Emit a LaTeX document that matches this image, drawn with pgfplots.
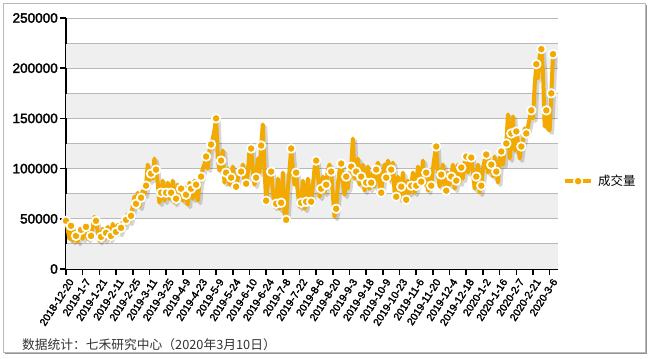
\documentclass[border=0pt]{standalone}
\usepackage{pgfplots}
\usepackage{pgfplotstable}
\pgfplotsset{compat=1.18}
\usepackage{fontspec}
\setmainfont{Liberation Sans}
\newfontfamily\bsans{Liberation Sans}[FakeBold=2.2]
\newfontfamily\cjk{Noto Sans CJK SC}
\definecolor{lineor}{RGB}{242,169,0}
\definecolor{bandgray}{RGB}{239,239,239}
\definecolor{gridgray}{RGB}{185,185,185}
\pgfplotstableread{
i v
0 48000
1 40000
2 30000
3 43000
4 28000
5 38000
6 33000
7 27000
8 40000
9 39000
10 30000
11 44000
12 42000
13 30000
14 36000
15 33000
16 42000
17 52000
18 48000
19 38000
20 28000
21 32000
22 40000
23 29000
24 36000
25 42000
26 30000
27 33000
28 45000
29 36000
30 37000
31 44000
32 36000
33 41000
34 47000
35 43000
36 49000
37 55000
38 47000
39 53000
40 62000
41 72000
42 65000
43 76000
44 62000
45 71000
46 78000
47 74000
48 83000
49 104000
50 88000
51 95000
52 90000
53 110000
54 99000
55 86000
56 66000
57 76000
58 88000
59 68000
60 76000
61 86000
62 70000
63 76000
64 88000
65 66000
66 70000
67 84000
68 74000
69 80000
70 68000
71 82000
72 74000
73 64000
74 86000
75 80000
76 70000
77 88000
78 84000
79 68000
80 86000
81 92000
82 100000
83 104000
84 112000
85 100000
86 118000
87 124000
88 130000
89 138000
90 150000
91 110000
92 98000
93 108000
94 118000
95 86000
96 96000
97 100000
98 84000
99 91000
100 102000
101 88000
102 82000
103 90000
104 100000
105 97000
106 104000
107 88000
108 85000
109 95000
110 118000
111 120000
112 98000
113 84000
114 91000
115 110000
116 96000
117 123000
118 144000
119 100000
120 68000
121 84000
122 100000
123 97000
124 78000
125 62000
126 65000
127 90000
128 60000
129 66000
130 96000
131 56000
132 49000
133 80000
134 98000
135 120000
136 100000
137 84000
138 96000
139 76000
140 62000
141 66000
142 88000
143 60000
144 67000
145 90000
146 74000
147 67000
148 82000
149 100000
150 108000
151 96000
152 72000
153 80000
154 92000
155 76000
156 84000
157 98000
158 104000
159 97000
160 74000
161 52000
162 60000
163 84000
164 98000
165 105000
166 86000
167 74000
168 92000
169 80000
170 96000
171 102000
172 130000
173 90000
174 97000
175 110000
176 84000
177 92000
178 104000
179 78000
180 86000
181 102000
182 80000
183 86000
184 96000
185 82000
186 99000
187 106000
188 84000
189 76000
190 94000
191 104000
192 91000
193 108000
194 88000
195 99000
196 106000
197 76000
198 72000
199 92000
200 70000
201 82000
202 96000
203 74000
204 69000
205 88000
206 76000
207 83000
208 96000
209 76000
210 83000
211 102000
212 90000
213 87000
214 108000
215 84000
216 96000
217 78000
218 90000
219 83000
220 100000
221 112000
222 122000
223 96000
224 82000
225 94000
226 104000
227 80000
228 78000
229 96000
230 84000
231 92000
232 104000
233 80000
234 88000
235 104000
236 86000
237 101000
238 90000
239 106000
240 112000
241 96000
242 114000
243 111000
244 96000
245 80000
246 92000
247 104000
248 76000
249 83000
250 100000
251 108000
252 114000
253 96000
254 108000
255 104000
256 92000
257 112000
258 97000
259 86000
260 108000
261 117000
262 104000
263 120000
264 125000
265 154000
266 110000
267 135000
268 152000
269 118000
270 137000
271 126000
272 110000
273 122000
274 128000
275 140000
276 135000
277 142000
278 150000
279 158000
280 150000
281 182000
282 204000
283 190000
284 212000
285 219000
286 196000
287 142000
288 158000
289 140000
290 138000
291 175000
292 214000
}\data
\begin{document}
\begin{tikzpicture}
\useasboundingbox (0bp,0bp) rectangle (650bp,-359bp);
\fill[white] (0bp,0bp) rectangle (650bp,-359bp);
\draw[gray!55, line width=1bp] (3.5bp,-3.5bp) rectangle (645.5bp,-352.5bp);
\draw[gray!85, line width=1.4bp] (646.5bp,-5bp) -- (646.5bp,-353.5bp) -- (5bp,-353.5bp);
\begin{axis}[
  at={(66bp,-269bp)}, anchor=south west,
  scale only axis, width=492bp, height=251bp,
  xmin=0, xmax=295, ymin=0, ymax=250000,
  axis x line*=bottom, axis y line*=left,
  axis line style={black, line width=2.6bp, -},
  tick style={black, line width=1.6bp},
  major tick length=6bp, minor tick length=0pt,
  tick align=outside,
  xtick={0,10,...,290},
  xticklabels={2018-12-20,2019-1-7,2019-1-21,2019-2-11,2019-2-25,2019-3-11,2019-3-25,2019-4-9,2019-4-23,2019-5-9,2019-5-24,2019-6-10,2019-6-24,2019-7-8,2019-7-22,2019-8-6,2019-8-20,2019-9-3,2019-9-18,2019-10-9,2019-10-23,2019-11-6,2019-11-20,2019-12-4,2019-12-18,2020-1-2,2020-1-16,2020-2-7,2020-2-21,2020-3-6},
  xticklabel style={font=\bsans\fontsize{10.5}{12}\selectfont, rotate=57, anchor=east, inner sep=0pt, yshift=-7bp, xshift=-1bp},
  ytick={0,50000,...,250000},
  minor ytick={25000,75000,...,225000},
  ymajorgrids, yminorgrids,
  grid style={gridgray, line width=0.9bp},
  minor grid style={gridgray, line width=0.9bp},
  scaled y ticks=false,
  yticklabel style={font=\bsans\fontsize{13.6}{15}\selectfont, /pgf/number format/fixed, /pgf/number format/1000 sep={}, inner sep=2bp},
  /pgf/number format/assume math mode=true,
  clip=false,
  legend style={draw=none, fill=none, at={(1.01,0.35)}, anchor=west, font=\cjk\fontsize{12.5}{14}\selectfont, inner sep=0pt},
  legend cell align=left,
  legend image code/.code={\draw[#1, mark repeat=2, mark phase=2] plot coordinates {(0bp,0bp) (13bp,0bp) (26bp,0bp)};},
]
\fill[bandgray] (axis cs:0,500) rectangle (axis cs:295,24500);
\fill[bandgray] (axis cs:0,50500) rectangle (axis cs:295,74500);
\fill[bandgray] (axis cs:0,100500) rectangle (axis cs:295,124500);
\fill[bandgray] (axis cs:0,150500) rectangle (axis cs:295,174500);
\fill[bandgray] (axis cs:0,200500) rectangle (axis cs:295,224500);
\addplot[black, opacity=0.16, line width=4bp, line join=round, no marks, xshift=2.5bp, yshift=-2.5bp, forget plot] table[x=i, y=v] {\data};
\addplot[lineor, line width=4bp, line join=round, mark=*, mark repeat=3, mark size=4.3bp, mark options={fill=lineor, draw=white, line width=1.7bp, solid}] table[x=i, y=v] {\data};
\addlegendentry{\hspace{3bp}成交量}
\addplot[only marks, mark=*, mark size=4.3bp, mark options={fill=lineor, draw=white, line width=1.7bp}, forget plot] table[x=i, y=v, skip coords between index={0}{292}] {\data};
\end{axis}
\node[anchor=west, text=black!80, font=\cjk\fontsize{12.8}{14}\selectfont, inner sep=0pt] at (22bp,-345bp) {数据统计：七禾研究中心（2020年3月10日）};
\end{tikzpicture}
\end{document}
